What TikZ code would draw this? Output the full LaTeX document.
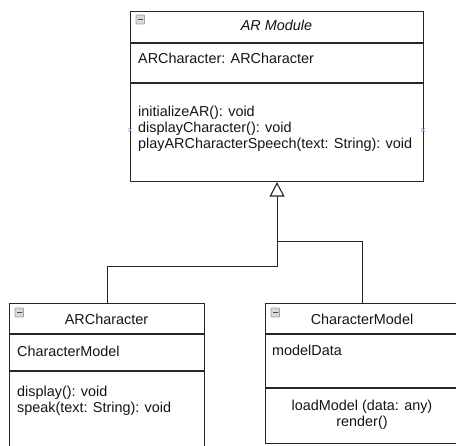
\documentclass[tikz,border=0pt]{standalone}
\usepackage{fontspec}
\setmainfont{Liberation Sans}
\usetikzlibrary{arrows.meta}
\begin{document}
\begin{tikzpicture}[x=1pt,y=-1pt,
  box/.style={draw=black!85, line width=1.1pt, inner sep=0pt, anchor=north west},
  sep/.style={draw=black!85, line width=1.1pt},
  txt/.style={inner sep=0pt, font=\fontsize{14.4}{17}\selectfont, text=black!92},
  conn/.style={draw=black!85, line width=1.1pt},
  ptmark/.style={draw=cyan!60!blue!50, line width=0.7pt},
  minusicon/.pic={
    \draw[gray!75, fill=gray!30, rounded corners=0.6pt, line width=0.6pt] (0,0) rectangle (8.5,9);
    \draw[black!70, line width=1.3pt] (1.8,4.5) -- (6.7,4.5);
  }]
\useasboundingbox (0,0) rectangle (456,446);
\clip (0,0) rectangle (456,446);

% AR Module
\node[box, minimum width=293pt, minimum height=170pt] (ar) at (130,11) {};
\draw[sep] (130,43) -- (423,43);
\draw[sep] (130,83) -- (423,83);
\pic at (136,15) {minusicon};
\node[txt, anchor=base] (arh) at (276.5,31) {\itshape AR Module};
\node[txt, anchor=base west] (ara) at (138,64) {ARCharacter: ARCharacter};
\node[txt, anchor=base west] (arm1) at (138,117) {initializeAR(): void};
\node[txt, anchor=base west] (arm2) at (138,133) {displayCharacter(): void};
\node[txt, anchor=base west] (arm3) at (138,148.6) {playARCharacterSpeech(text: String): void};
\draw[ptmark] (128,128) -- (132,132) (128,132) -- (132,128);
\draw[ptmark] (421,128) -- (425,132) (421,132) -- (425,128);

% ARCharacter
\node[box, minimum width=195pt, minimum height=160pt] (arc) at (9,303) {};
\draw[sep] (9,334) -- (204,334);
\draw[sep] (9,371) -- (204,371);
\pic at (15,308) {minusicon};
\node[txt, anchor=base] (arch) at (106.5,325) {ARCharacter};
\node[txt, anchor=base west] (arca) at (17,356.5) {CharacterModel};
\node[txt, anchor=base west] (arcm1) at (17,397) {display(): void};
\node[txt, anchor=base west] (arcm2) at (17,413) {speak(text: String): void};

% CharacterModel
\node[box, minimum width=194pt, minimum height=140pt] (cm) at (265,303) {};
\draw[sep] (265,334) -- (459,334);
\draw[sep] (265,388) -- (459,388);
\pic at (271,308) {minusicon};
\node[txt, anchor=base] (cmh) at (362,325) {CharacterModel};
\node[txt, anchor=base west] (cma) at (272,356) {modelData};
\node[txt, anchor=base] (cmm1) at (362,410.5) {loadModel (data: any)};
\node[txt, anchor=base] (cmm2) at (362,426.5) {render()};

% Generalization
\coordinate (k) at (arc.north |- 0,266.7);
\coordinate (j) at (ar.south |- 0,241.7);
\draw[conn] (cm.north) |- (j);
\draw[conn, -{Triangle[open, length=14.5pt, width=15pt, fill=white]}] (arc.north) -- (k) -| (ar.south);
\end{tikzpicture}
\end{document}
